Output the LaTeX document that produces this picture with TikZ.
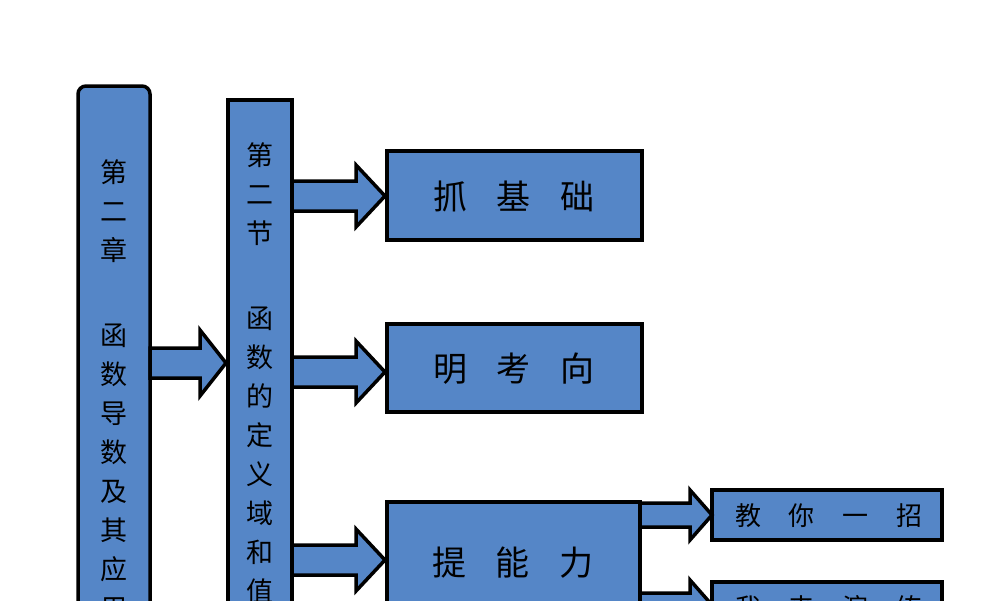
\documentclass[tikz,border=0pt]{standalone}
\usepackage{fontspec}
\newfontfamily\cjk{Noto Sans CJK SC}
\usetikzlibrary{positioning}
\definecolor{boxblue}{RGB}{85,134,199}
\tikzset{blk/.style={draw=black,line width=3.5pt,fill=boxblue},
  vtxt/.style={font=\cjk\fontsize{27}{39}\selectfont,align=center,anchor=north,inner sep=0pt},
  htxt/.style={font=\cjk\fontsize{34}{40}\selectfont,inner sep=0pt}}
% block arrow: x1, x2, yc, shaft half, head half, head start
\newcommand\blkarr[6]{\draw[blk,line join=miter] (#1,#3-#4) -- (#6,#3-#4) -- (#6,#3-#5) -- (#2,#3) -- (#6,#3+#5) -- (#6,#3+#4) -- (#1,#3+#4) -- cycle;}
\begin{document}
\begin{tikzpicture}[x=1pt,y=-1pt]
    \useasboundingbox (0,0) rectangle (1000,600);
    \clip (0,0) rectangle (1000,600);
    % bars
    \draw[blk,rounded corners=8pt] (78,700) -- (78,86) -- (150,86) -- (150,700);
    \node[vtxt] (chap) at (114,159) {第\\二\\章\\[46pt]函\\数\\导\\数\\及\\其\\应\\用};
    \draw[blk] (228,100) rectangle (292,700);
    \node[vtxt] (sec) at (260,142) {第\\二\\节\\[46pt]函\\数\\的\\定\\义\\域\\和\\值\\域};
    % boxes
    \draw[blk] (387,151) rectangle (642,240);
    \node[htxt] (jc) at (514,196) {抓\hspace{30pt}基\hspace{30pt}础};
    \draw[blk] (387,324) rectangle (642,412);
    \node[htxt] (kx) at (514,369) {明\hspace{30pt}考\hspace{30pt}向};
    \draw[blk] (387,502) rectangle (640,700);
    \node[htxt] (nl) at (513,563) {提\hspace{30pt}能\hspace{30pt}力};
    \draw[blk] (712,490) rectangle (942,540);
    \node[htxt,font=\cjk\fontsize{26}{30}\selectfont] (jn) at (829,516) {教\hspace{28pt}你\hspace{28pt}一\hspace{28pt}招};
    \draw[blk] (712,582) rectangle (942,700);
    \node[htxt,font=\cjk\fontsize{26}{30}\selectfont] (wl) at (829,608) {我\hspace{28pt}来\hspace{28pt}演\hspace{28pt}练};
    % arrows
    \blkarr{150}{226}{363}{15}{33}{200}
    \blkarr{292}{385}{196}{15}{31}{356}
    \blkarr{292}{385}{372}{15}{31}{356}
    \blkarr{292}{385}{560}{15}{31}{356}
    \blkarr{640}{712}{515}{12}{25}{690}
    \blkarr{640}{712}{605}{12}{25}{690}
\end{tikzpicture}
\end{document}
